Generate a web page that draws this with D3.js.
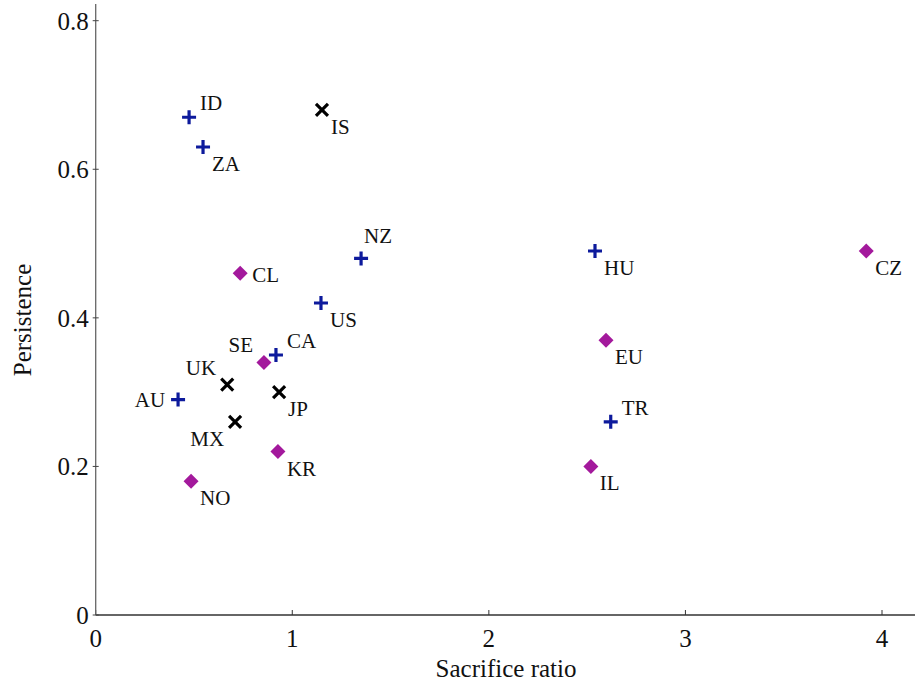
<!DOCTYPE html>
<html>
<head>
<meta charset="utf-8">
<script src="https://cdn.jsdelivr.net/npm/d3@7"></script>
<style>
body { margin: 0; background: #fff; }
</style>
</head>
<body>
<script>
// data
var codes       = ["ID", "ZA", "IS", "NZ", "CL", "US", "HU", "CZ", "EU", "CA", "SE", "UK", "JP", "AU", "MX", "TR", "KR", "IL", "NO"];
var sacrifice   = [0.475, 0.546, 1.151, 1.35, 0.735, 1.146, 2.54, 3.92, 2.596, 0.917, 0.856, 0.669, 0.933, 0.419, 0.709, 2.62, 0.927, 2.519, 0.485];
var persistence = [0.67, 0.63, 0.68, 0.48, 0.46, 0.42, 0.49, 0.49, 0.37, 0.35, 0.34, 0.31, 0.30, 0.29, 0.26, 0.26, 0.22, 0.20, 0.18];
var groups      = ["plus", "plus", "cross", "plus", "diamond", "plus", "plus", "diamond", "diamond", "plus", "diamond", "cross", "cross", "plus", "cross", "plus", "diamond", "diamond", "diamond"];
var xTicks = [0, 1, 2, 3, 4];
var yTicks = [0, 0.2, 0.4, 0.6, 0.8];

// where each label sits relative to its marker
var labelPlace = {
    ID: "ur", ZA: "lr", IS: "lr", NZ: "u", CL: "r", US: "lr", HU: "lr", CZ: "lr",
    EU: "lr", CA: "ur", SE: "ul", UK: "ul", JP: "lr", AU: "l", MX: "ll", TR: "ur",
    KR: "lr", IL: "lr", NO: "lr"
};

var W = 915, H = 687;
var x0 = 95.7, y0 = 615;
var serif = "'Liberation Serif'";

var x = d3.scaleLinear().domain([0, 4]).range([x0, 882]);
var y = d3.scaleLinear().domain([0, 0.8]).range([y0, 20.7]);

var svg = d3.select("body").append("svg")
    .attr("width", W)
    .attr("height", H);

// x axis
svg.append("line")
    .attr("x1", x0).attr("x2", W)
    .attr("y1", y0).attr("y2", y0)
    .attr("stroke", "#333").attr("stroke-width", 1.3);
svg.selectAll("line.xt").data(xTicks).enter().append("line")
    .attr("class", "xt")
    .attr("x1", function (d) { return x(d); }).attr("x2", function (d) { return x(d); })
    .attr("y1", y0).attr("y2", y0 - 5)
    .attr("stroke", "#333").attr("stroke-width", 1);
svg.selectAll("text.xl").data(xTicks).enter().append("text")
    .attr("class", "xl")
    .attr("x", function (d) { return x(d); })
    .attr("y", y0 + 32)
    .attr("text-anchor", "middle")
    .attr("font-size", 25)
    .text(function (d) { return d3.format("")(d); });

// y axis
svg.append("line")
    .attr("x1", x0).attr("x2", x0)
    .attr("y1", y0).attr("y2", 4)
    .attr("stroke", "#666").attr("stroke-width", 1.3);
svg.selectAll("line.yt").data(yTicks).enter().append("line")
    .attr("class", "yt")
    .attr("x1", x0 - 3).attr("x2", x0 + 3)
    .attr("y1", function (d) { return y(d); }).attr("y2", function (d) { return y(d); })
    .attr("stroke", "#444").attr("stroke-width", 1);
svg.selectAll("text.yl").data(yTicks).enter().append("text")
    .attr("class", "yl")
    .attr("x", x0 - 7)
    .attr("y", function (d) { return y(d) + 9; })
    .attr("text-anchor", "end")
    .attr("font-size", 25)
    .text(function (d) { return d === 0 ? "0" : d3.format(".1f")(d); });

svg.append("text")
    .attr("x", 506).attr("y", 677)
    .attr("text-anchor", "middle")
    .attr("font-size", 25)
    .text("Sacrifice ratio");
svg.append("text")
    .attr("transform", "translate(31,320) rotate(-90)")
    .attr("text-anchor", "middle")
    .attr("font-size", 25)
    .text("Persistence");

// markers
var pts = codes.map(function (c, i) {
    return { code: c, sx: sacrifice[i], p: persistence[i], g: groups[i] };
});

var g = svg.selectAll("g.pt").data(pts).enter().append("g")
    .attr("class", "pt")
    .attr("transform", function (d) { return "translate(" + x(d.sx) + "," + y(d.p) + ")"; });

g.filter(function (d) { return d.g === "plus"; }).append("path")
    .attr("d", "M-7,0H7M0,-7V7")
    .attr("stroke", "#0d1a9c").attr("stroke-width", 3.2).attr("fill", "none");
g.filter(function (d) { return d.g === "cross"; }).append("path")
    .attr("d", "M-6,-6L6,6M-6,6L6,-6")
    .attr("stroke", "#000").attr("stroke-width", 3.2).attr("fill", "none");
g.filter(function (d) { return d.g === "diamond"; }).append("path")
    .attr("d", "M0,-7.5L7.5,0L0,7.5L-7.5,0Z")
    .attr("fill", "#a3199c");

var offs = {
    u:  [3, -15, "start"],
    ur: [11, -7, "start"],
    lr: [9, 24, "start"],
    r:  [12, 9, "start"],
    ul: [-11, -10, "end"],
    l:  [-13, 7, "end"],
    ll: [-11, 24, "end"]
};

g.append("text")
    .attr("x", function (d) { return offs[labelPlace[d.code]][0]; })
    .attr("y", function (d) { return offs[labelPlace[d.code]][1]; })
    .attr("text-anchor", function (d) { return offs[labelPlace[d.code]][2]; })
    .attr("font-size", 21)
    .text(function (d) { return d.code; });

svg.selectAll("text")
    .style("font-family", serif)
    .style("fill", "#111");
</script>
</body>
</html>
